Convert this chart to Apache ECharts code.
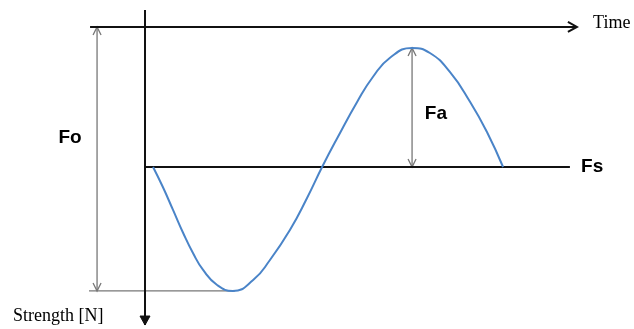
<!DOCTYPE html>
<html>
<head>
<meta charset="utf-8">
<script src="https://cdn.jsdelivr.net/npm/echarts@6/dist/echarts.min.js"></script>
<style>
html,body{margin:0;padding:0;background:#fff;}
#chart{width:634px;height:329px;}
</style>
</head>
<body>
<div id="chart"></div>
<script>
// wave (time units, strength units; Fs = 0)
const time = [0.23, 0.51, 0.8, 1.09, 1.37, 1.66, 2.06, 2.51, 3.09, 3.57, 4.14, 4.63, 5.06, 5.51, 6.06, 6.51, 7.0, 7.63, 8.14, 8.71, 9.29, 9.77, 10.23];
const strength = [0, -1.67, -3.58, -5.5, -7.17, -8.58, -9.83, -10.33, -9.42, -7.75, -5.25, -2.58, 0, 2.5, 5.42, 7.5, 9.1, 9.92, 9.5, 7.92, 5.42, 2.92, 0];

// levels
const fsLevel = 0;
const foLevel = 11.67;
const minLevel = -10.33;
const faPeak = 9.92;
const faTime = 7.63;

// black axes: [t1, s1, t2, s2, headAtStart, headAtEnd]  (1 = open head, 2 = filled head)
const axisSegs = [
    [0, 13.08, 0, -13.17, 0, 2],
    [-1.57, foLevel, 12.34, foLevel, 0, 1],
    [0, fsLevel, 12.14, fsLevel, 0, 0]
];
// grey dimension lines
const dimSegs = [
    [-1.37, minLevel, -1.37, foLevel, 1, 1],
    [faTime, fsLevel, faTime, faPeak, 1, 1],
    [-1.6, minLevel, 2.57, minLevel, 0, 0]
];
// labels: [t, s, text]
const boldLabels = [[-2.14, 2.42, 'Fo'], [8.31, 4.42, 'Fa']];
const sideLabels = [[12.46, fsLevel, 'Fs']];
const serifLabels = [[12.8, 12.0, 'Time'], [-3.77, -12.42, 'Strength [N]']];

var chart = echarts.init(document.getElementById('chart'));

function head(tip, from, len, w, color, lw, filled) {
    var dx = tip[0] - from[0], dy = tip[1] - from[1];
    var d = Math.sqrt(dx * dx + dy * dy) || 1;
    dx /= d; dy /= d;
    var pts = [
        [tip[0] - dx * len - dy * w, tip[1] - dy * len + dx * w],
        tip,
        [tip[0] - dx * len + dy * w, tip[1] - dy * len - dx * w]
    ];
    if (filled) {
        return {type: 'polygon', shape: {points: pts}, style: {fill: color, stroke: color, lineWidth: 1}};
    }
    return {type: 'polyline', shape: {points: pts}, style: {stroke: color, lineWidth: lw, fill: null}};
}

function segRenderer(color, lw, len, w) {
    return function (params, api) {
        var a = api.coord([api.value(0), api.value(1)]);
        var b = api.coord([api.value(2), api.value(3)]);
        var kids = [{
            type: 'line',
            shape: {x1: a[0], y1: a[1], x2: b[0], y2: b[1]},
            style: {stroke: color, lineWidth: lw}
        }];
        if (api.value(4)) kids.push(head(a, b, len, w, color, lw, api.value(4) === 2));
        if (api.value(5)) kids.push(head(b, a, len, w, color, lw, api.value(5) === 2));
        return {type: 'group', children: kids};
    };
}

function textSeries(data, pos, font) {
    return {
        type: 'scatter',
        symbolSize: 0,
        itemStyle: {opacity: 1},
        data: data,
        label: Object.assign({
            show: true,
            formatter: p => p.value[2],
            position: pos,
            distance: 0,
            color: '#000',
            opacity: 1,
            textBorderWidth: 0
        }, font),
        silent: true
    };
}

const boldFont = {fontFamily: 'Liberation Sans', fontWeight: 'bold', fontSize: 19};
const serifFont = {fontFamily: 'Liberation Serif', fontSize: 18};

const option = {
    backgroundColor: '#fff',
    animation: false,
    grid: {left: 0, right: 0, top: 0, bottom: 0},
    xAxis: {type: 'value', min: -4.143, max: 13.971, show: false},
    yAxis: {type: 'value', min: -13.5, max: 13.917, show: false},
    series: [
        {
            type: 'custom',
            renderItem: segRenderer('#777', 1.3, 8, 4),
            encode: {x: [0, 2], y: [1, 3]},
            data: dimSegs,
            silent: true
        },
        {
            type: 'custom',
            renderItem: segRenderer('#111', 2, 9, 5),
            encode: {x: [0, 2], y: [1, 3]},
            data: axisSegs,
            silent: true
        },
        {
            type: 'line',
            data: time.map((t, i) => [t, strength[i]]),
            smooth: 0.5,
            showSymbol: false,
            lineStyle: {color: '#4a84c8', width: 2}
        },
        textSeries(boldLabels, 'inside', boldFont),
        textSeries(sideLabels, 'right', boldFont),
        textSeries(serifLabels, 'right', serifFont)
    ]
};
chart.setOption(option);
</script>
</body>
</html>
